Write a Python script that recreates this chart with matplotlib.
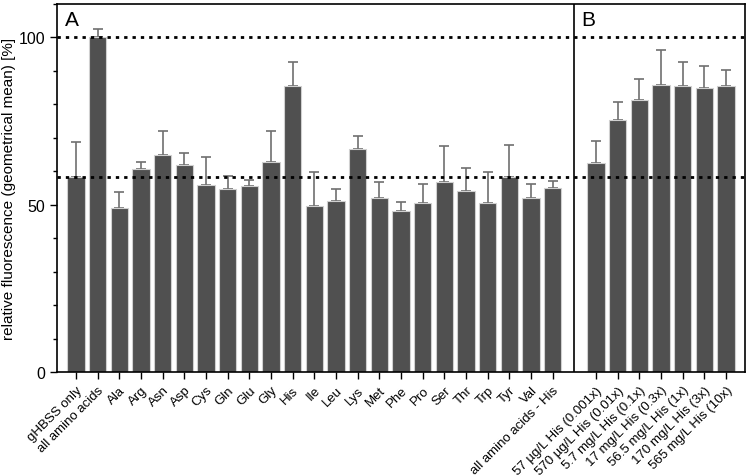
import numpy as np
import matplotlib
matplotlib.use("Agg")
import matplotlib.pyplot as plt
from matplotlib.ticker import MultipleLocator

plt.rcParams["font.family"] = ["Liberation Sans", "DejaVu Sans"]

labels_a = ["gHBSS only", "all amino acids", "Ala", "Arg", "Asn", "Asp", "Cys",
            "Gln", "Glu", "Gly", "His", "Ile", "Leu", "Lys", "Met", "Phe", "Pro",
            "Ser", "Thr", "Trp", "Tyr", "Val", "all amino acids - His"]
values_a = [58.3, 100.0, 49.0, 60.7, 65.0, 62.0, 55.8, 54.7, 55.5, 62.9, 85.5,
            49.5, 51.2, 66.8, 52.1, 48.2, 50.5, 56.7, 54.2, 50.4, 58.2, 52.0, 54.9]
err_a = [10.4, 2.4, 4.8, 2.2, 7.1, 3.6, 8.4, 3.8, 1.9, 9.0, 7.3,
         10.3, 3.5, 3.7, 4.7, 2.7, 5.7, 10.8, 6.9, 9.3, 9.7, 4.2, 2.1]

labels_b = ["57 µg/L His (0.001x)", "570 µg/L His (0.01x)", "5.7 mg/L His (0.1x)",
            "17 mg/L His (0.3x)", "56.5 mg/L His (1x)", "170 mg/L His (3x)",
            "565 mg/L His (10x)"]
values_b = [62.4, 75.3, 81.3, 85.7, 85.5, 84.9, 85.5]
err_b = [6.7, 5.3, 6.4, 10.5, 7.3, 6.6, 4.7]

ref_full = 100.0
ref_base = values_a[0]

x_a = np.arange(len(values_a))
x_b = np.arange(len(values_b)) + len(values_a) + 1
split = len(values_a)

fig = plt.figure(figsize=(7.51, 4.77), dpi=100)
ax = fig.add_axes([0.0759, 0.218, 0.916, 0.7715])

bar_color = "#505050"
for xs, vals, errs in [(x_a, values_a, err_a), (x_b, values_b, err_b)]:
    ax.bar(xs, vals, width=0.8, color=bar_color, edgecolor="#d0d0d0", linewidth=0.8, zorder=2)
    ax.errorbar(xs, vals, yerr=[np.zeros(len(errs)), errs], fmt="none",
                ecolor="#707070", elinewidth=1.2, capsize=3.5, capthick=1.2, zorder=1)

ax.axhline(ref_full, color="black", linestyle=(0, (1.2, 1.8)), linewidth=2, zorder=3)
ax.axhline(ref_base, color="black", linestyle=(0, (1.2, 1.8)), linewidth=2, zorder=3)
ax.axvline(split, color="black", linewidth=1.2, zorder=4)

ax.set_xlim(-0.87, x_b[-1] + 0.87)
ax.set_ylim(0, 110)
ax.yaxis.set_major_locator(MultipleLocator(50))
ax.yaxis.set_minor_locator(MultipleLocator(10))
ax.tick_params(axis="y", which="major", length=5, width=1, labelsize=11.5)
ax.tick_params(axis="y", which="minor", length=3, width=1)
ax.set_xticks(np.concatenate([x_a, x_b]))
ax.set_xticklabels(labels_a + labels_b, rotation=45, ha="right",
                   rotation_mode="anchor", fontsize=9.5)
ax.tick_params(axis="x", length=5, width=1)
for s in ax.spines.values():
    s.set_linewidth(1.2)

ax.set_ylabel("relative fluorescence (geometrical mean) [%]", fontsize=11, labelpad=2)
ax.text(0.012, 0.985, "A", transform=ax.transAxes, fontsize=15, va="top", ha="left")
ax.text((split + 0.87 + 0.3) / (x_b[-1] + 1.74), 0.985, "B", transform=ax.transAxes,
        fontsize=15, va="top", ha="left")

fig.savefig("out.png", dpi=100)
